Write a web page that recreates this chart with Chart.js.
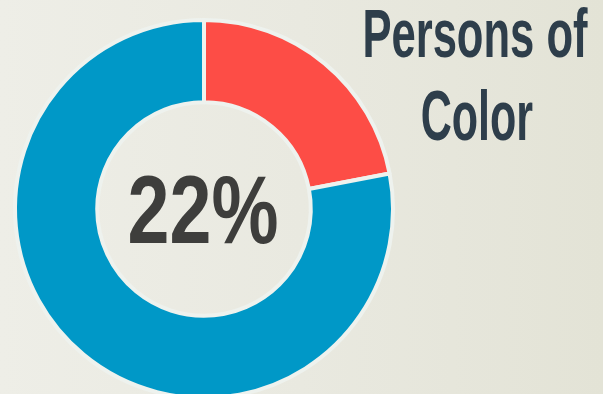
<!DOCTYPE html>
<html>
<head>
<meta charset="utf-8">
<script src="https://cdn.jsdelivr.net/npm/chart.js@4/dist/chart.umd.min.js"></script>
<style>
  html, body { margin: 0; padding: 0; overflow: hidden; width: 603px; height: 394px; }
  body { background: linear-gradient(to right, #eeeee7 0%, #e9e9e0 50%, #e3e3d6 100%); }
  #wrap { position: absolute; left: 0; top: 0; width: 603px; height: 420px; }
</style>
</head>
<body>
<div id="wrap"><canvas id="c"></canvas></div>
<script>
const categories = ['Persons of Color', 'Other'];
const values = [22, 78];
const colors = ['#fd4d46', '#0098c7'];
const titleLines = ['Persons of', 'Color'];

function drawFitted(ctx, text, font, color, left, right, capTop, baseline) {
  ctx.save();
  ctx.font = font;
  const m = ctx.measureText(text);
  const inkW = m.actualBoundingBoxLeft + m.actualBoundingBoxRight;
  const capH = m.actualBoundingBoxAscent;
  const sx = (right - left) / inkW;
  const sy = (baseline - capTop) / capH;
  ctx.translate(left, baseline);
  ctx.scale(sx, sy);
  ctx.fillStyle = color;
  ctx.textBaseline = 'alphabetic';
  ctx.textAlign = 'left';
  ctx.fillText(text, m.actualBoundingBoxLeft, 0);
  ctx.restore();
}

const textPlugin = {
  id: 'texts',
  afterDraw(chart) {
    const ctx = chart.ctx;
    const meta = chart.getDatasetMeta(0);
    const arc = meta.data[0];
    const cx = arc.x, cy = arc.y;
    const f1 = '600 67px "Liberation Sans Narrow", "Liberation Sans", sans-serif';
    drawFitted(ctx, titleLines[0], f1, '#2e3e4b', 365, 588, 8, 57);
    drawFitted(ctx, titleLines[1], f1, '#2e3e4b', 422, 533, 90, 140);
    const pct = Math.round(values[0] / values.reduce((a, b) => a + b, 0) * 100) + '%';
    const f2 = 'bold 93px "Liberation Sans Narrow", "Liberation Sans", sans-serif';
    drawFitted(ctx, pct, f2, '#3e3e3c', cx - 74, cx + 73, cy - 34, cy + 34);
  }
};

new Chart(document.getElementById('c'), {
  type: 'doughnut',
  data: {
    labels: categories,
    datasets: [{
      data: values,
      backgroundColor: colors,
      borderColor: '#eef2ee',
      borderWidth: 4,
      hoverOffset: 0
    }]
  },
  options: {
    responsive: true,
    maintainAspectRatio: false,
    animation: false,
    radius: 189,
    cutout: '56.5%',
    layout: { padding: { left: 17, top: 22, right: 212, bottom: 24 } },
    plugins: { legend: { display: false }, tooltip: { enabled: false } }
  },
  plugins: [textPlugin]
});
</script>
</body>
</html>
